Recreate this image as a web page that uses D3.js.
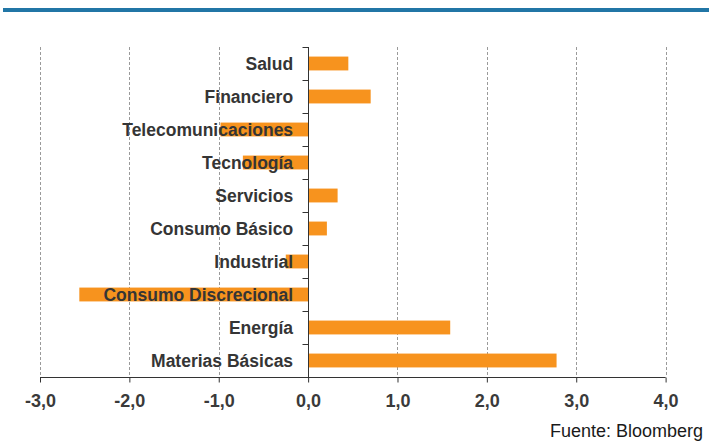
<!DOCTYPE html>
<html>
<head>
<meta charset="utf-8">
<script src="https://cdn.jsdelivr.net/npm/d3@7/dist/d3.min.js"></script>
<style>
  body { margin: 0; background: #fff; }
  text { font-family: Arial, "Liberation Sans", sans-serif; }
</style>
</head>
<body>
<div id="chart"></div>
<script>
var sectores = ['Salud', 'Financiero', 'Telecomunicaciones', 'Tecnología', 'Servicios',
  'Consumo Básico', 'Industrial', 'Consumo Discrecional', 'Energía', 'Materias Básicas'];
var valores = [0.45, 0.70, -0.98, -0.73, 0.33, 0.21, -0.25, -2.56, 1.59, 2.78];
var ticksX = [-3, -2, -1, 0, 1, 2, 3, 4];
var fuente = 'Fuente: Bloomberg';

(function(d3) {
  'use strict';
  var width = 721;
  var height = 444;
  var top = 47, bottom = 377, left = 40, right = 665.6;

  var dataset = sectores.map(function(s, i) {
    return { sector: s, valor: valores[i] };
  });

  var svg = d3.select('#chart')
    .append('svg')
    .attr('width', width)
    .attr('height', height);

  // linea azul superior
  svg.append('rect')
    .attr('x', 3)
    .attr('y', 8)
    .attr('width', 706)
    .attr('height', 4)
    .attr('fill', '#2176a6');

  var x = d3.scaleLinear()
    .domain([-3, 4])
    .range([left, right]);

  var y = d3.scaleBand()
    .domain(sectores)
    .range([top, bottom]);

  // rejilla punteada
  svg.selectAll('.grid')
    .data(ticksX.filter(function(d) { return d !== 0; }))
    .enter()
    .append('line')
    .attr('class', 'grid')
    .attr('x1', function(d) { return Math.round(x(d)) + 0.5; })
    .attr('x2', function(d) { return Math.round(x(d)) + 0.5; })
    .attr('y1', top)
    .attr('y2', bottom)
    .attr('stroke', '#9a9a9a')
    .attr('stroke-width', 1)
    .attr('stroke-dasharray', '3,2');

  // barras
  svg.selectAll('.bar')
    .data(dataset)
    .enter()
    .append('rect')
    .attr('class', 'bar')
    .attr('x', function(d) { return x(Math.min(0, d.valor)); })
    .attr('y', function(d) { return y(d.sector) + y.bandwidth() * 0.29; })
    .attr('width', function(d) { return Math.abs(x(d.valor) - x(0)); })
    .attr('height', y.bandwidth() * 0.42)
    .attr('fill', '#f7931e');

  // eje x
  var xAxis = d3.axisBottom(x)
    .tickValues(ticksX)
    .tickSize(5)
    .tickFormat(function(d) { return d.toFixed(1).replace('.', ','); });

  var gx = svg.append('g')
    .attr('transform', 'translate(0,' + (Math.round(y.range()[1]) + 0.5) + ')')
    .call(xAxis);
  gx.select('.domain').attr('stroke', '#333').attr('d', 'M' + left + ',0H' + right);
  gx.selectAll('.tick line').attr('stroke', '#333');
  gx.selectAll('.tick text')
    .attr('y', 29)
    .attr('dy', 0)
    .attr('fill', '#3a3a3a')
    .style('font-size', '18px')
    .style('font-weight', 'bold');

  // eje y en el cero
  var x0 = Math.round(x(0)) + 0.5;
  svg.append('line')
    .attr('x1', x0).attr('x2', x0)
    .attr('y1', top).attr('y2', bottom)
    .attr('stroke', '#333');
  var bordes = sectores.map(function(s) { return y(s); }).concat([bottom]);
  svg.selectAll('.ytick')
    .data(bordes)
    .enter()
    .append('line')
    .attr('class', 'ytick')
    .attr('x1', x0 - 6).attr('x2', x0)
    .attr('y1', function(d) { return Math.round(d) + 0.5; })
    .attr('y2', function(d) { return Math.round(d) + 0.5; })
    .attr('stroke', '#333');

  // etiquetas de categoria (encima de las barras)
  svg.selectAll('.label')
    .data(dataset)
    .enter()
    .append('text')
    .attr('class', 'label')
    .attr('x', x(0) - 15)
    .attr('y', function(d) { return y(d.sector) + y.bandwidth() / 2 + 0.5; })
    .attr('dy', '0.35em')
    .attr('text-anchor', 'end')
    .attr('fill', '#353535')
    .style('font-size', '17.5px')
    .style('font-weight', 'bold')
    .text(function(d) { return d.sector; });

  svg.append('text')
    .attr('x', 703)
    .attr('y', 437)
    .attr('text-anchor', 'end')
    .attr('fill', '#1a1a1a')
    .style('font-size', '18px')
    .text(fuente);
})(window.d3);
</script>
</body>
</html>
